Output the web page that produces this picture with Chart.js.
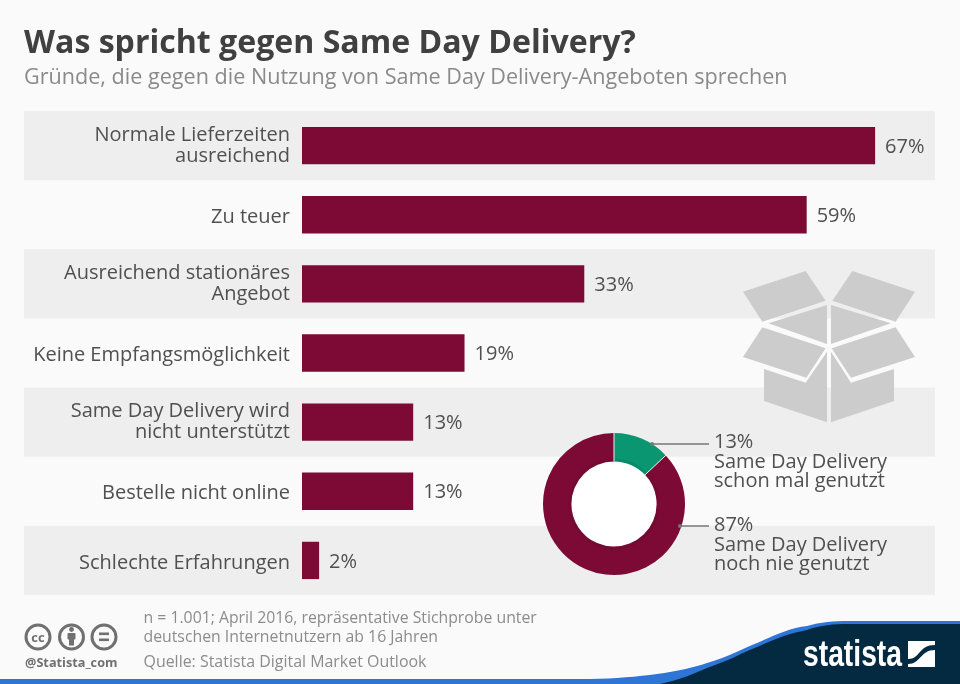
<!DOCTYPE html>
<html lang="de">
<head>
<meta charset="utf-8">
<title>Was spricht gegen Same Day Delivery?</title>
<script src="https://cdn.jsdelivr.net/npm/chart.js@4/dist/chart.umd.min.js"></script>
<style>
  html, body { margin: 0; padding: 0; background: #fafafa; }
  body { width: 960px; height: 684px; position: relative; overflow: hidden; font-family: "Open Sans", sans-serif; }
  canvas, svg, .t { position: absolute; }
  .t { white-space: nowrap; }
  #title { left: 24px; top: 19px; font-size: 32.1px; line-height: 44px; font-weight: 700; color: #404040; }
  #subtitle { left: 24px; top: 61px; font-size: 21.6px; line-height: 30px; color: #8a8a8a; }
  .note { left: 143.5px; font-size: 15.8px; line-height: 20px; color: #8c8c8c; }
  .pie { left: 714px; font-size: 20px; line-height: 19.5px; color: #505050; }
  #handle { left: 25px; top: 654px; font-size: 12.7px; line-height: 16px; font-weight: 700; color: #707070; }
</style>
</head>
<body>
<canvas id="bars" width="960" height="684" style="left:0;top:0"></canvas>

<svg style="left:530px;top:260px" width="420" height="330" viewBox="0 0 1260 990" fill="#cccccc">
  <polygon points="639,95 827,33 887,122 697,185"/>
  <polygon points="967,33 1155,95 1097,185 907,122"/>
  <polygon points="715,190 891,135 891,252"/>
  <polygon points="903,135 1083,190 903,252"/>
  <polygon points="697,202 887,265 829,353 639,291"/>
  <polygon points="1097,202 1155,291 963,353 905,265"/>
  <polygon points="702,327 827,368 891,275 891,487 702,423"/>
  <polygon points="903,275 963,368 1092,327 1092,423 903,487"/>
</svg>

<canvas id="donut" width="160" height="160" style="left:534px;top:424px"></canvas>

<svg style="left:0;top:0" width="960" height="684">
  <g stroke="#777" stroke-width="1.5" fill="#777">
    <line x1="652" y1="444" x2="709" y2="444"/>
    <circle cx="652" cy="444" r="2" stroke="none"/>
    <line x1="680" y1="526" x2="709" y2="526"/>
    <circle cx="680" cy="526" r="2" stroke="none"/>
  </g>
  <!-- footer wave -->
  <path fill="#2e75d6" d="M0 679 H590 C640 678 680 672 707 663 C730 656 740 650 757 643 C775 635 790 628 807 626 C820 622 835 621 847 621 H960 V684 H0 Z"/>
  <path fill="#042a42" d="M660 684 C680 680 695 673 707 668 C730 660 740 654 757 647 C775 639 790 633 807 630 C820 625 835 624 847 624 H960 V684 Z"/>
  <text x="803" y="666" fill="#fff" font-family="'Liberation Sans Narrow','Liberation Sans',sans-serif" font-weight="700" font-size="36" textLength="99" lengthAdjust="spacingAndGlyphs">statista</text>
  <rect x="908" y="641" width="27" height="26" fill="#fff"/>
  <path d="M908 664 C921 664 920 650 935 650 V645 C918 645 921 659 908 659 Z" fill="#042a42"/>
  <!-- licence icons -->
  <g fill="none" stroke="#707070" stroke-width="3">
    <circle cx="38" cy="637" r="12"/>
    <circle cx="71.5" cy="637" r="12"/>
    <circle cx="104" cy="637" r="12"/>
  </g>
  <text x="38" y="641.5" text-anchor="middle" font-family="'Open Sans',sans-serif" font-weight="700" font-size="13" fill="#707070">cc</text>
  <g fill="#707070">
    <circle cx="71.5" cy="629.5" r="2.4"/>
    <rect x="67.5" y="633" width="8" height="6.5" rx="1"/>
    <rect x="69" y="638" width="5" height="7.5"/>
    <rect x="99" y="632.5" width="10" height="2.6"/>
    <rect x="99" y="638.5" width="10" height="2.6"/>
  </g>
</svg>

<div class="t" id="title">Was spricht gegen Same Day Delivery?</div>
<div class="t" id="subtitle">Gründe, die gegen die Nutzung von Same Day Delivery-Angeboten sprechen</div>
<div class="t pie" style="top:431px">13%</div>
<div class="t pie" style="top:451px">Same Day Delivery</div>
<div class="t pie" style="top:470px">schon mal genutzt</div>
<div class="t pie" style="top:514px">87%</div>
<div class="t pie" style="top:534px">Same Day Delivery</div>
<div class="t pie" style="top:553px">noch nie genutzt</div>
<div class="t note" style="top:607px">n = 1.001; April 2016, repräsentative Stichprobe unter</div>
<div class="t note" style="top:626px">deutschen Internetnutzern ab 16 Jahren</div>
<div class="t note" style="top:651px;font-size:15.95px">Quelle: Statista Digital Market Outlook</div>
<div class="t" id="handle">@Statista_com</div>

<script>
// data
const categories = [
  ["Normale Lieferzeiten", "ausreichend"],
  "Zu teuer",
  ["Ausreichend stationäres", "Angebot"],
  "Keine Empfangsmöglichkeit",
  ["Same Day Delivery wird", "nicht unterstützt"],
  "Bestelle nicht online",
  "Schlechte Erfahrungen"
];
const shares = [67, 59, 33, 19, 13, 13, 2];
const donutLabels = ["Same Day Delivery schon mal genutzt", "Same Day Delivery noch nie genutzt"];
const donutValues = [13, 87];

const MAROON = "#7d0a35";
const FONT = '"Open Sans", sans-serif';

// grey bands behind every other row, has to run before the axis labels
const bandsPlugin = {
  id: "bands",
  beforeDraw(chart) {
    const { ctx, chartArea, scales } = chart;
    const step = scales.y.getPixelForTick(1) - scales.y.getPixelForTick(0);
    ctx.save();
    ctx.fillStyle = "#eeeeee";
    categories.forEach((c, i) => {
      if (i % 2 == 0) {
        ctx.fillRect(24, scales.y.getPixelForTick(i) - step / 2, chartArea.right - 24, step);
      }
    });
    ctx.restore();
  }
};

// value labels at the end of the bars
const valuePlugin = {
  id: "values",
  afterDatasetsDraw(chart) {
    const { ctx } = chart;
    ctx.save();
    ctx.font = "20px " + FONT;
    ctx.fillStyle = "#505050";
    ctx.textBaseline = "middle";
    chart.getDatasetMeta(0).data.forEach((bar, i) => {
      ctx.fillText(shares[i] + "%", bar.x + 10, bar.y + 1.5);
    });
    ctx.restore();
  }
};

// two line labels sit a bit higher than the single line ones
const labelNudgePlugin = {
  id: "labelNudge",
  afterUpdate(chart) {
    chart.scales.y.getLabelItems().forEach(item => {
      if (Array.isArray(item.label)) item.textOffset -= 2.5;
    });
  }
};

// white hole of the ring, soft dark inner edge, thin cuts between the slices
const ringPlugin = {
  id: "ring",
  beforeDatasetsDraw(chart) {
    const arc = chart.getDatasetMeta(0).data[0];
    const { ctx } = chart;
    ctx.save();
    ctx.fillStyle = "#ffffff";
    ctx.beginPath();
    ctx.arc(arc.x, arc.y, arc.innerRadius + 1, 0, Math.PI * 2);
    ctx.fill();
    ctx.restore();
  },
  afterDatasetsDraw(chart) {
    const arcs = chart.getDatasetMeta(0).data;
    const { ctx } = chart;
    const first = arcs[0];
    ctx.save();
    ctx.strokeStyle = "rgba(0,0,0,0.07)";
    ctx.lineWidth = 3;
    ctx.beginPath();
    ctx.arc(first.x, first.y, first.innerRadius + 1.5, 0, Math.PI * 2);
    ctx.stroke();
    ctx.strokeStyle = "#eeeeee";
    ctx.lineWidth = 1;
    arcs.forEach(arc => {
      ctx.beginPath();
      ctx.moveTo(arc.x + Math.cos(arc.startAngle) * arc.innerRadius, arc.y + Math.sin(arc.startAngle) * arc.innerRadius);
      ctx.lineTo(arc.x + Math.cos(arc.startAngle) * arc.outerRadius, arc.y + Math.sin(arc.startAngle) * arc.outerRadius);
      ctx.stroke();
    });
    ctx.restore();
  }
};

new Chart(document.getElementById("bars"), {
  type: "bar",
  data: {
    labels: categories,
    datasets: [{ data: shares, backgroundColor: MAROON, barPercentage: 0.54, categoryPercentage: 1 }]
  },
  options: {
    indexAxis: "y",
    responsive: false,
    animation: false,
    layout: { padding: { left: 24, right: 25, top: 111, bottom: 89 } },
    plugins: { legend: { display: false }, tooltip: { enabled: false } },
    scales: {
      x: { display: false, min: 0, max: 74 },
      y: {
        afterFit(scale) { scale.width = 278; },
        grid: { display: false, drawTicks: false },
        border: { display: false },
        ticks: {
          padding: 12,
          labelOffset: 2.5,
          color: "#505050",
          autoSkip: false,
          font: { family: FONT, size: 20, lineHeight: 1.06 }
        }
      }
    }
  },
  plugins: [bandsPlugin, valuePlugin, labelNudgePlugin]
});

new Chart(document.getElementById("donut"), {
  type: "doughnut",
  data: {
    labels: donutLabels,
    datasets: [
      { data: donutValues, backgroundColor: ["#0a9671", MAROON], borderWidth: 0 }
    ]
  },
  options: {
    responsive: false,
    animation: false,
    cutout: "60%",
    radius: 71,
    layout: { padding: 0 },
    plugins: { legend: { display: false }, tooltip: { enabled: false } }
  },
  plugins: [ringPlugin]
});
</script>
</body>
</html>
